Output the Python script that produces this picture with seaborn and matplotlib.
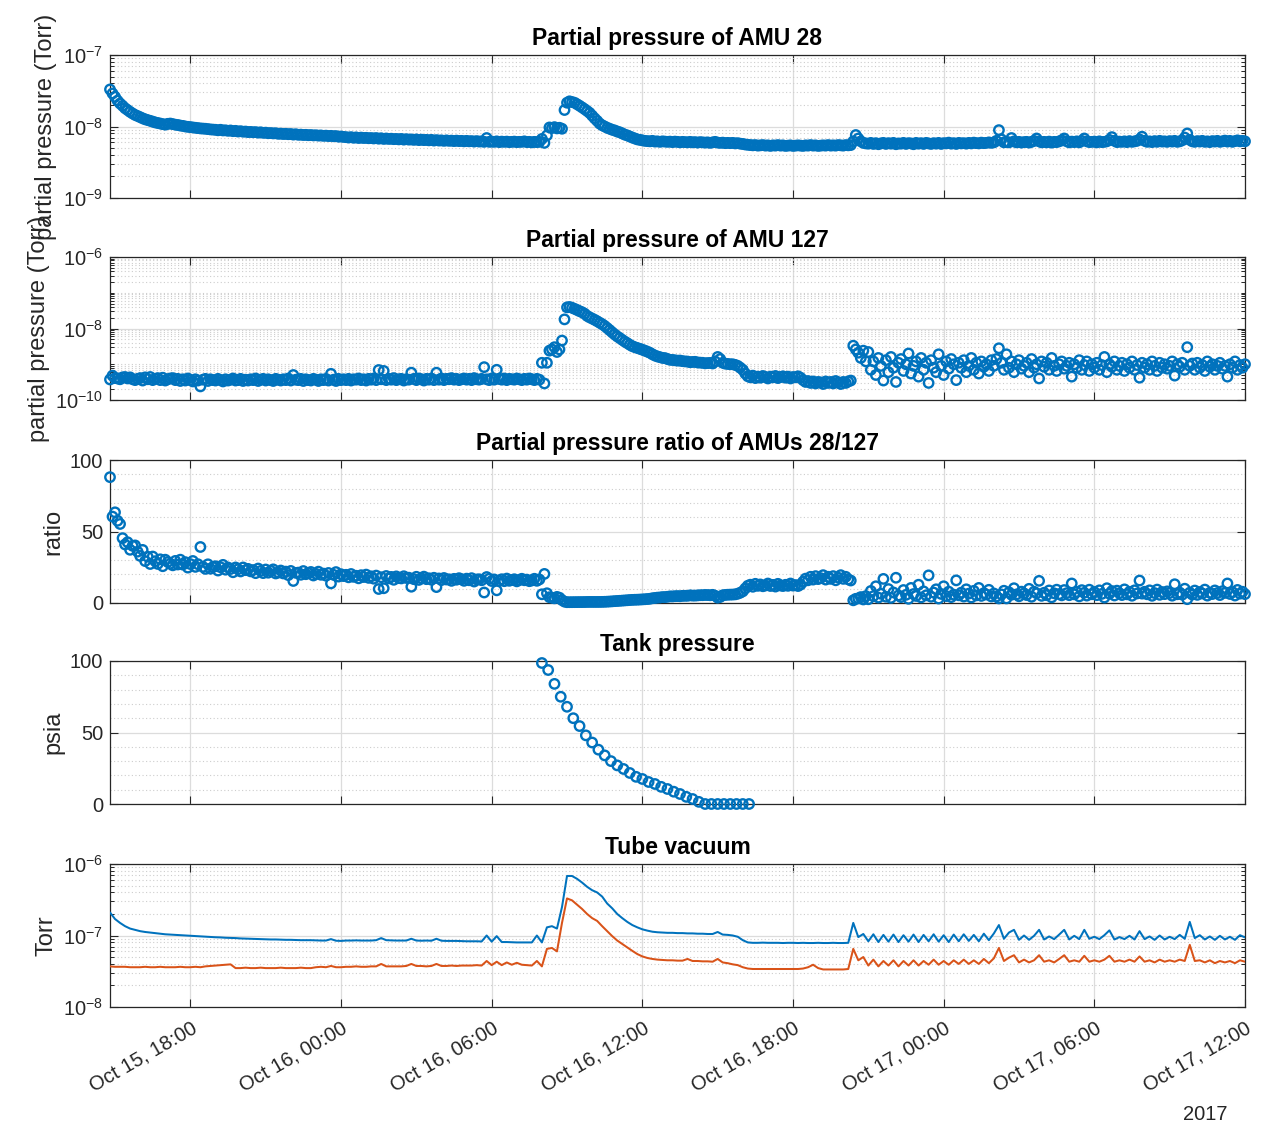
import numpy as np
import pandas as pd
import matplotlib
matplotlib.use("Agg")
import matplotlib.pyplot as plt
import matplotlib.dates as mdates
from matplotlib.ticker import (FixedLocator, LogLocator, MultipleLocator,
                               NullFormatter, NullLocator, LogFormatterSciNotation)
import seaborn as sns

# ---------------- data ----------------
START = pd.Timestamp("2017-10-15 14:48")   # first sample
RGA_STEP_H = 0.1                            # RGA sample spacing (hours)
GAUGE_STEP_H = 0.2                          # vacuum gauge sample spacing (hours)
TANK_START = pd.Timestamp("2017-10-16 08:00")
TANK_STEP_H = 0.25

# AMU 28 partial pressure, units of 1e-9 Torr
amu28_e9 = [
    33, 29, 26, 23, 21, 19.5, 18, 17, 16, 15.2, 14.5, 14, 13.5, 13, 12.6, 12.3,
    12.0, 11.7, 11.4, 11.2, 11.0, 10.8, 10.6, 10.9, 11.0,
    10.8, 10.6, 10.5, 10.3, 10.2, 10.0, 9.9, 9.8, 9.7, 9.6, 9.5, 9.4, 9.35, 9.3,
    9.2, 9.1, 9.05,
    9.0, 8.85, 9.0, 8.8, 8.85, 8.7, 8.8, 8.6, 8.7, 8.5,
    8.6, 8.45, 8.5, 8.35, 8.4, 8.3, 8.35, 8.2, 8.3, 8.15,
    8.2, 8.05, 8.1, 8.0, 8.05, 7.9, 7.95, 7.85, 7.9, 7.8,
    7.85, 7.7, 7.8, 7.65, 7.7, 7.6, 7.65, 7.55, 7.6, 7.5,
    7.55, 7.45, 7.5, 7.4, 7.45, 7.35, 7.4, 7.3, 7.35, 7.2,
    7.25, 7.15,
    7.1, 7.0, 7.1, 6.95, 7.05, 6.9, 7.0, 6.9, 6.95, 6.85,
    6.9, 6.8, 6.9, 6.75, 6.85, 6.7, 6.8, 6.7, 6.75, 6.65,
    6.7, 6.6, 6.7, 6.55, 6.65, 6.55, 6.6, 6.5, 6.6, 6.45,
    6.55, 6.45, 6.5, 6.4, 6.5, 6.35, 6.45, 6.35, 6.4, 6.3,
    6.4, 6.3, 6.35, 6.25, 6.35, 6.25, 6.3, 6.2, 6.3, 6.2,
    6.25, 6.15, 6.25, 6.15, 6.2, 6.1, 6.9, 6.1, 6.15, 6.1,
    6.2, 6.05, 6.15, 6.1, 6.15, 6.05, 6.1, 6.15, 6.05, 6.1,
    6.1, 6.2, 6.05, 6.1, 6.0, 6.1, 6.05, 6.1,
    6.7, 5.9, 7.5, 9.7, 9.5, 9.8, 9.4, 9.6, 9.3, 17, 21.5, 22.5,
    22, 21.5, 20.5, 19.5, 18.5, 17.5, 16.5, 15.5, 14.2, 13.0,
    12.0, 11.0, 10.4, 10.0, 9.6, 9.3, 9.0, 8.8, 8.5, 8.3,
    8.0, 7.7, 7.5, 7.25, 7.0, 6.8, 6.6, 6.5, 6.4, 6.3,
    6.25, 6.2, 6.3, 6.15, 6.2, 6.1, 6.2, 6.15, 6.1, 6.15,
    6.05, 6.15, 6.1, 6.0, 6.1, 6.05, 6.0, 6.1, 6.0, 6.05,
    5.95, 6.05, 6.0, 5.95, 6.0, 5.9, 6.0, 6.1, 5.95, 5.9,
    5.95, 5.85, 5.9, 5.85, 5.9, 5.8, 5.85, 5.75, 5.7, 5.6,
    5.55, 5.5, 5.45, 5.5, 5.4, 5.45, 5.5, 5.4, 5.45, 5.35,
    5.45, 5.4, 5.5, 5.4, 5.45, 5.35, 5.4, 5.45, 5.35, 5.4,
    5.45, 5.4, 5.35, 5.45, 5.4, 5.5, 5.4, 5.45, 5.35, 5.4,
    5.45, 5.4, 5.5, 5.4, 5.45, 5.4, 5.5, 5.45, 5.4, 5.5,
    5.45, 5.5,
    6.2, 7.6, 6.8, 6.2, 5.9, 5.8,
    5.75, 5.9, 5.7, 5.85, 5.65, 5.8, 5.9, 5.7, 5.85, 5.75,
    5.9, 5.65, 5.8, 5.75, 5.9, 5.7, 5.85, 5.8, 5.65, 5.9,
    5.75, 5.85, 5.7, 5.9, 5.8, 5.7, 5.85, 5.75, 5.9, 5.7,
    5.85, 5.8, 5.95, 5.75, 5.85, 5.7, 5.9, 5.8, 5.85, 5.75,
    5.9, 5.8, 5.95, 5.85, 5.8, 5.95, 5.85, 5.9, 6.0, 5.9,
    6.0, 6.3, 8.9, 6.6, 6.0, 6.1, 6.0, 6.9, 6.2, 6.0,
    6.1, 5.95, 6.05, 6.1, 5.95, 6.1, 6.3, 6.8, 6.2, 6.0,
    6.1, 6.0, 6.15, 5.95, 6.1, 6.05, 6.2, 6.4, 6.8, 6.2,
    6.0, 6.15, 6.05, 6.2, 6.0, 6.3, 6.8, 6.2, 6.05, 6.1,
    6.15, 6.0, 6.2, 6.05, 6.1, 6.2, 6.5, 7.1, 6.3, 6.05,
    6.15, 6.1, 6.2, 6.05, 6.25, 6.1, 6.2, 6.3, 6.6, 7.2,
    6.3, 6.1, 6.2, 6.05, 6.25, 6.1, 6.3, 6.15, 6.2, 6.1,
    6.25, 6.15, 6.3, 6.1, 6.2, 6.4, 7.0, 8.0, 6.5, 6.2,
    6.1, 6.25, 6.15, 6.3, 6.1, 6.2, 6.05, 6.25, 6.15, 6.3,
    6.1, 6.2, 6.35, 6.15, 6.3, 6.1, 6.25, 6.4, 6.2, 6.3,
    6.2,
]

# AMU 127 partial pressure, units of 1e-10 Torr
amu127_e10 = [
    3.75, 4.8, 4.1, 4.0, 3.8, 4.3, 4.4, 4.0, 4.3, 3.8, 3.6, 3.9, 4.1, 3.5, 4.3,
    3.8, 4.4, 3.6, 3.9, 4.1, 3.6, 4.2, 3.5, 3.8, 4.0,
    4.1, 3.6, 3.9, 3.4, 3.8, 3.5, 4.0, 3.6, 3.3, 3.8, 3.5, 2.4, 3.7, 3.9, 3.4,
    3.8, 3.6,
    3.5, 3.9, 3.6, 3.3, 3.8, 3.5, 3.7, 4.0, 3.5, 3.6,
    3.9, 3.4, 3.7, 3.5, 3.8, 3.6, 4.0, 3.4, 3.7, 3.9,
    3.5, 3.8, 3.6, 3.4, 3.9, 3.7, 3.5, 3.8, 3.6, 4.0,
    3.5, 5.0, 3.7, 3.6, 3.9, 3.4, 3.8, 3.6, 3.5, 3.9,
    3.7, 3.4, 3.8, 3.6, 3.9, 3.5, 5.4, 3.7, 3.4, 3.9,
    3.6, 3.8,
    3.6, 3.9, 3.5, 3.8, 3.7, 4.0, 3.6, 3.8, 3.5, 3.9,
    3.7, 4.0, 3.6, 6.9, 3.8, 6.5, 3.6, 3.9, 3.7, 4.1,
    3.6, 3.8, 3.9, 3.5, 3.8, 3.7, 5.8, 3.9, 3.6, 4.0,
    3.8, 3.5, 3.9, 3.7, 4.0, 3.6, 5.8, 3.7, 4.0, 3.6,
    3.9, 3.8, 4.1, 3.7, 3.9, 3.6, 3.8, 4.0, 3.7, 3.9,
    3.6, 4.1, 3.8, 3.7, 3.9, 8.3, 3.8, 3.6, 4.0, 3.7,
    7.0, 3.9, 3.7, 4.0, 3.6, 3.9, 3.8, 3.7, 4.0, 3.8,
    3.6, 3.9, 3.7, 4.0, 3.8, 3.6, 3.9, 3.7,
    11, 2.9, 11, 24, 26, 30, 22, 26, 46, 180, 390, 400,
    380, 355, 330, 305, 285, 260, 225, 205, 190, 175,
    160, 145, 132, 118, 103, 90, 78, 68, 60, 54,
    48, 43, 39, 35, 32, 30, 28.5, 27, 25.5, 24,
    22.5, 21, 19, 17.5, 16.5, 15.8, 15.0, 14.9, 14.0, 13.3,
    13.2, 12.9, 12.6, 12.7, 12.2, 12.0, 11.9, 11.4, 11.6, 11.7,
    11.2, 11.1, 11.0, 10.6, 10.8, 10.9, 10.5, 12, 16, 14,
    11, 10.4, 10.2, 10, 10, 9.6, 9.0, 8.0, 7.0, 5.5,
    4.6, 4.3, 4.8, 4.1, 4.5, 4.2, 4.7, 4.4, 4.0, 4.5,
    4.3, 4.7, 4.1, 4.4, 4.6, 4.2, 4.5, 4.0, 4.4, 4.3,
    4.6, 4.2, 3.6, 3.2, 3.4, 3.0, 3.3, 2.9, 3.2, 3.1,
    2.8, 3.3, 3.0, 3.2, 2.9, 3.4, 3.1, 2.8, 3.2, 3.0,
    3.3, 3.5,
    33, 26, 21, 15, 24, 12,
    22, 7, 12, 5, 15, 9, 3.5, 13, 6, 16,
    8, 3.2, 11, 14, 6.5, 10, 20, 5.5, 9, 12,
    4.5, 15, 7, 11, 3.0, 13, 8, 6, 19, 9,
    5, 12, 7.5, 14, 10, 3.6, 11, 8, 13, 6,
    9, 15, 7, 11, 5.5, 12, 8.5, 10, 6.5, 13,
    9, 14, 28, 11, 7, 19, 8, 12, 6, 10,
    13, 7.5, 9, 11, 6, 14, 8, 10, 4.0, 12,
    8.5, 11, 7, 15, 9, 6.5, 10, 12, 7.5, 9,
    11, 4.5, 10, 8, 13, 7, 9.5, 12, 6.5, 10,
    8, 11, 7, 9.5, 16, 6, 10, 8.5, 12, 7,
    9, 11, 6.5, 10, 8, 12, 7, 9.5, 4.2, 11,
    8, 10, 7, 12, 9, 6.5, 11, 8, 10, 7.5,
    9, 12, 4.8, 10, 8.5, 11, 7, 30, 9, 10.5,
    7, 11, 8, 9.5, 6.5, 12, 8.5, 10, 7, 9,
    11, 7.5, 9, 4.5, 10, 8, 12, 7, 9.5, 8,
    10,
]

# Tank pressure, psia (15-minute samples)
tank_psia = [98.6, 93.7, 84, 75, 68, 60, 54.5, 48, 43, 38, 34, 30, 27, 24.5,
             21.7, 19, 17.5, 15.4, 14, 12, 10.5, 8.6, 7, 5, 3.5, 1.5,
             0, 0, 0, 0, 0, 0, 0, 0]

# Tube vacuum gauge 1 (blue), units of 1e-8 Torr
tube1_e8 = [
    21, 17, 15, 13.5, 12.5, 12, 11.5, 11.2, 11, 10.8, 10.6, 10.4, 10.3, 10.2, 10.1, 10.0,
    9.9, 9.8, 9.7, 9.6, 9.5, 9.45, 9.4, 9.3, 9.25, 9.2,
    9.1, 9.05, 9.0, 8.95, 8.9, 8.85, 8.8, 8.8, 8.75, 8.7, 8.7, 8.65, 8.6, 8.6, 8.6,
    8.55, 8.5, 8.5, 8.9, 8.45, 8.4,
    8.5, 8.5, 8.55, 8.5, 8.5, 8.5, 8.6, 9.2, 8.6, 8.55,
    8.5, 8.5, 8.5, 9.0, 8.5, 8.45, 8.5, 8.45, 9.0, 8.45,
    8.4, 8.4, 8.4, 8.35, 8.3, 8.3, 8.3, 8.25, 10, 8.2,
    9.8, 8.1, 8.1, 8.05, 8.0, 8.0, 8.0, 8.0, 10.0,
    8.0, 13, 13.5, 12.5, 25, 68,
    68, 62, 55, 48, 43, 40, 35, 28, 24, 20, 17.5, 15.5, 14, 13, 12.2,
    11.7, 11.3, 11.1, 11.0, 10.9, 10.9, 10.8, 10.8, 10.7, 10.7,
    10.6, 10.6, 10.5, 10.5, 11.2, 10.3, 10.2, 10.0, 9.6, 8.6,
    8.0, 7.9, 7.9, 7.95, 7.9, 7.9, 7.9, 7.85, 7.9, 7.9,
    7.85, 7.9, 7.85, 7.85, 7.9, 7.85, 7.85, 7.9, 7.85, 7.85, 7.9,
    15, 9.5, 10.5,
    8.3, 10.4, 8.1, 10.2, 8.2, 10.3, 8.1, 10.1, 8.2, 10.3,
    8.1, 10.2, 8.3, 10.4, 8.2, 10.1, 8.1, 10.3, 8.3, 10.4,
    8.4, 10.2, 8.3, 10.6, 8.6, 10.7, 14.0, 9.0, 11.0, 12.0,
    8.7, 10.0, 8.7, 9.9, 12.0, 8.8, 9.7, 8.9, 10.3, 12.0,
    8.8, 9.9, 8.9, 12.0, 9.0, 9.6, 8.9, 10.1, 11.8, 8.8,
    9.5, 8.9, 9.9, 8.8, 11.5, 8.9, 9.7, 8.7, 10.0, 8.8,
    9.6, 8.9, 10.2, 9.0, 15.5, 9.2, 10.1, 8.8, 9.7, 8.7,
    9.9, 8.8, 9.6, 8.7, 10.1, 9.4,
]

# Tube vacuum gauge 2 (orange), units of 1e-8 Torr
tube2_e8 = [
    3.7, 3.65, 3.65, 3.65, 3.6, 3.6, 3.6, 3.65, 3.6, 3.6, 3.65, 3.6, 3.6, 3.6,
    3.65, 3.6, 3.6, 3.65, 3.6, 3.7, 3.75, 3.8, 3.85, 3.9, 3.95,
    3.5, 3.5, 3.55, 3.5, 3.5, 3.55, 3.5, 3.5, 3.5, 3.55, 3.5, 3.5, 3.5, 3.55,
    3.5, 3.5, 3.6, 3.65, 3.6, 3.75, 3.6, 3.6,
    3.65, 3.65, 3.7, 3.65, 3.65, 3.7, 3.7, 4.0, 3.7, 3.7,
    3.7, 3.7, 3.75, 4.0, 3.75, 3.75, 3.7, 3.75, 4.0, 3.75,
    3.75, 3.8, 3.75, 3.8, 3.8, 3.8, 3.85, 3.8, 4.4, 3.85,
    4.3, 3.85, 4.2, 3.9, 4.15, 3.9, 3.85, 3.8, 4.4,
    3.7, 6.5, 6.7, 6.0, 15, 33,
    31, 27, 23.5, 20, 17.5, 16, 13.5, 11.5, 9.8, 8.5, 7.6, 6.8, 6.1, 5.5, 5.1,
    4.85, 4.7, 4.6, 4.55, 4.5, 4.5, 4.45, 4.45, 4.7, 4.4,
    4.4, 4.35, 4.35, 4.3, 4.7, 4.2, 4.1, 3.95, 3.85, 3.6,
    3.45, 3.4, 3.4, 3.4, 3.4, 3.4, 3.4, 3.4, 3.4, 3.4,
    3.4, 3.45, 3.6, 3.9, 3.5, 3.35, 3.35, 3.35, 3.35, 3.35, 3.4,
    6.5, 4.5, 5.0,
    3.8, 4.6, 3.7, 4.4, 3.8, 4.5, 3.7, 4.4, 3.8, 4.5,
    3.8, 4.4, 3.9, 4.6, 3.9, 4.4, 3.9, 4.5, 4.0, 4.6,
    4.0, 4.5, 4.0, 4.7, 4.1, 4.8, 6.7, 4.4, 4.9, 5.3,
    4.2, 4.6, 4.2, 4.5, 5.3, 4.3, 4.5, 4.2, 4.7, 5.3,
    4.3, 4.5, 4.3, 5.2, 4.3, 4.5, 4.3, 4.6, 5.2, 4.3,
    4.5, 4.3, 4.6, 4.3, 5.1, 4.3, 4.5, 4.2, 4.6, 4.3,
    4.5, 4.3, 4.6, 4.4, 7.4, 4.4, 4.5, 4.2, 4.5, 4.1,
    4.4, 4.2, 4.4, 4.1, 4.5, 4.3,
]

titles = ["Partial pressure of AMU 28", "Partial pressure of AMU 127",
          "Partial pressure ratio of AMUs 28/127", "Tank pressure", "Tube vacuum"]
ylabels = ["partial pressure (Torr)", "partial pressure (Torr)", "ratio", "psia", "Torr"]

# ---------------- frames ----------------
rga = pd.DataFrame({
    "time": START + pd.to_timedelta(np.arange(len(amu28_e9)) * RGA_STEP_H, unit="h"),
    "amu28": np.asarray(amu28_e9, float) * 1e-9,
    "amu127": np.asarray(amu127_e10, float) * 1e-10,
})
rga["ratio"] = rga["amu28"] / rga["amu127"]
gauge = pd.DataFrame({
    "time": START + pd.to_timedelta(np.arange(len(tube1_e8)) * GAUGE_STEP_H, unit="h"),
    "tube1": np.asarray(tube1_e8, float) * 1e-8,
    "tube2": np.asarray(tube2_e8, float) * 1e-8,
})
tank = pd.DataFrame({
    "time": TANK_START + pd.to_timedelta(np.arange(len(tank_psia)) * TANK_STEP_H, unit="h"),
    "psia": tank_psia,
})

# ---------------- style ----------------
sns.set_theme(style="ticks")
INK = "#262626"
plt.rcParams.update({
    "font.family": ["Liberation Sans", "DejaVu Sans"],
    "mathtext.fontset": "custom",
    "mathtext.rm": "Liberation Sans",
    "mathtext.it": "Liberation Sans:italic",
    "mathtext.bf": "Liberation Sans:bold",
    "axes.unicode_minus": False,
    "axes.edgecolor": INK,
    "axes.linewidth": 0.9,
    "xtick.color": INK, "ytick.color": INK,
    "xtick.labelcolor": INK, "ytick.labelcolor": INK,
    "axes.labelcolor": INK,
})
BLUE = "#0072BD"
ORANGE = "#D95319"
TICK_FS = 14.5
LABEL_FS = 17
TITLE_FS = 16.5

fig = plt.figure(figsize=(12.66, 11.24), dpi=100)
FW, FH = 1266, 1124
left, width, height = 110 / FW, 1135 / FW, 143 / FH
tops = [55, 257, 460, 661, 864]
axes = []
for top in tops:
    rect = [left, 1 - (top + 143) / FH, width, height]
    ax = fig.add_axes(rect, sharex=axes[0] if axes else None)
    axes.append(ax)
ax1, ax2, ax3, ax4, ax5 = axes

sc_kw = dict(marker="o", s=46, color=BLUE, facecolors="none", edgecolor=BLUE,
             linewidth=1.7, clip_on=False, legend=False, zorder=3)
sns.scatterplot(data=rga, x="time", y="amu28", ax=ax1, **sc_kw)
sns.scatterplot(data=rga, x="time", y="amu127", ax=ax2, **sc_kw)
sns.scatterplot(data=rga, x="time", y="ratio", ax=ax3, **sc_kw)
sns.scatterplot(data=tank, x="time", y="psia", ax=ax4, **sc_kw)
sns.lineplot(data=gauge, x="time", y="tube1", ax=ax5, color=BLUE, lw=1.45,
             estimator=None, sort=False, legend=False, zorder=3)
sns.lineplot(data=gauge, x="time", y="tube2", ax=ax5, color=ORANGE, lw=1.45,
             estimator=None, sort=False, legend=False, zorder=3)


def log_axis(ax, lo, hi, majors):
    ax.set_yscale("log")
    ax.set_ylim(lo, hi)
    ax.yaxis.set_major_locator(FixedLocator(majors))
    ax.yaxis.set_major_formatter(LogFormatterSciNotation())
    ax.yaxis.set_minor_locator(LogLocator(base=10, subs=np.arange(1, 10), numticks=100))
    ax.yaxis.set_minor_formatter(NullFormatter())
    ax.tick_params(axis="y", which="minor", length=3, width=0.7)


def lin_axis(ax):
    ax.set_ylim(0, 100)
    ax.yaxis.set_major_locator(FixedLocator([0, 50, 100]))
    ax.yaxis.set_minor_locator(MultipleLocator(10))
    ax.tick_params(axis="y", which="minor", length=0)


log_axis(ax1, 1e-9, 1e-7, [1e-9, 1e-8, 1e-7])
log_axis(ax2, 1e-10, 1e-6, [1e-10, 1e-8, 1e-6])
lin_axis(ax3)
lin_axis(ax4)
log_axis(ax5, 1e-8, 1e-6, [1e-8, 1e-7, 1e-6])

for ax, title, ylab in zip(axes, titles, ylabels):
    ax.set_axisbelow(True)
    ax.grid(True, which="major", axis="both", color="#dcdcdc", lw=0.9, ls="-")
    ax.grid(True, which="minor", axis="y", color="#cdcdcd", lw=0.8, ls=(0, (1, 2.2)))
    ax.tick_params(which="both", direction="in", top=True, right=True,
                   labelsize=TICK_FS, colors=INK)
    ax.tick_params(which="major", length=6, width=0.8, pad=5)
    ax.set_title(title, fontsize=TITLE_FS, fontweight="bold", color="black", pad=7)
    ax.set_ylabel(ylab, fontsize=LABEL_FS, color=INK)
    ax.set_xlabel("")
    for sp in ax.spines.values():
        sp.set_visible(True)
        sp.set_color(INK)
        sp.set_linewidth(0.9)

ax5.set_xlim(rga["time"].iloc[0], rga["time"].iloc[-1])
ax5.xaxis.set_major_locator(mdates.HourLocator(byhour=[0, 6, 12, 18]))
ax5.xaxis.set_major_formatter(mdates.DateFormatter("%b %d, %H:%M"))
ax5.xaxis.set_minor_locator(NullLocator())
for ax in axes[:-1]:
    ax.tick_params(axis="x", labelbottom=False)
ax5.tick_params(axis="x", pad=8)
for lbl in ax5.get_xticklabels():
    lbl.set_rotation(30)
    lbl.set_ha("right")
    lbl.set_va("top")
    lbl.set_rotation_mode("anchor")

fig.text(1205 / FW, 1 - 1115 / FH, "2017", ha="center", va="center",
         fontsize=TICK_FS, color=INK)

fig.savefig("out.png", dpi=100)
